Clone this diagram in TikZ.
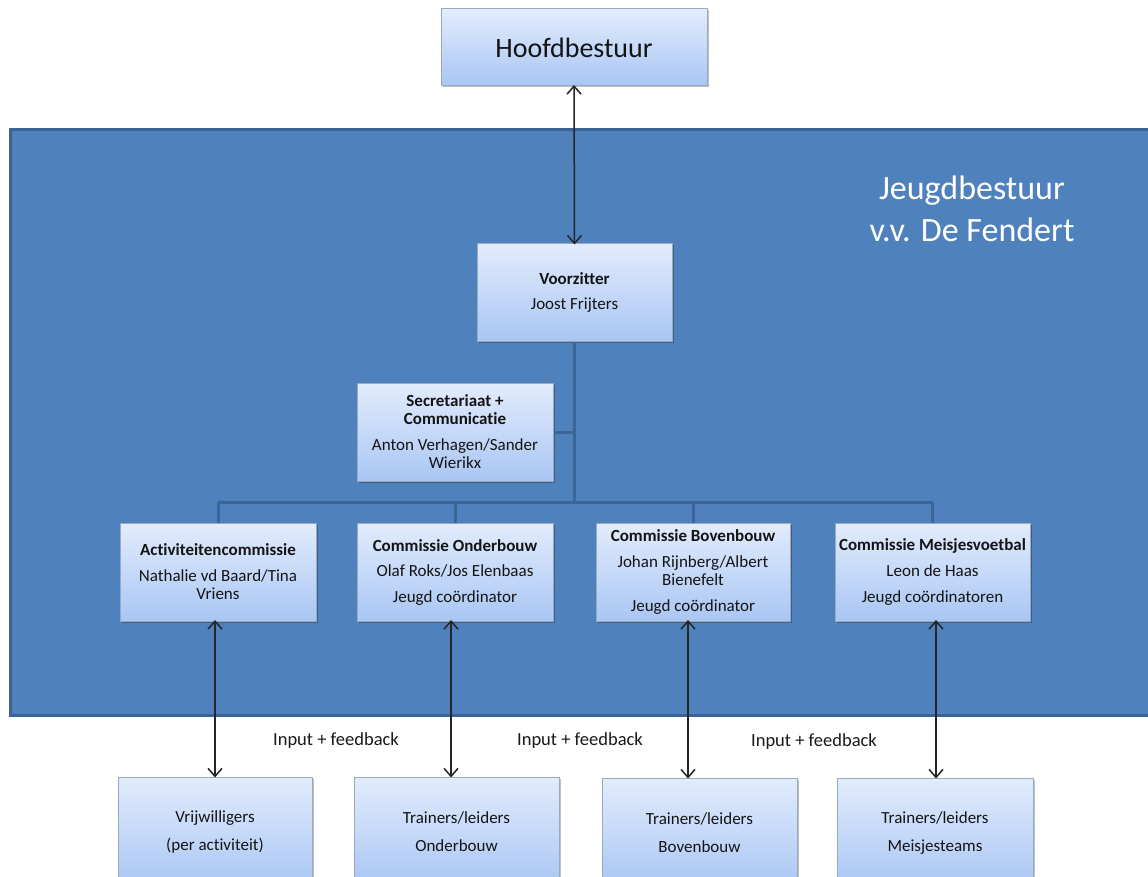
\documentclass[tikz,border=0pt]{standalone}
\usepackage{fontspec}
\setmainfont{Carlito}[Ligatures=NoCommon]
\usetikzlibrary{arrows.meta,shadows}
\definecolor{bigfill}{HTML}{4F81BD}
\definecolor{bigborder}{HTML}{3B6494}
\definecolor{treeline}{HTML}{3C6698}
\definecolor{boxtop}{HTML}{E2ECFC}
\definecolor{boxbot}{HTML}{A9C6F4}
\definecolor{boxborder}{HTML}{9AA9BC}
\tikzset{
  box/.style={draw=boxborder, line width=1pt, top color=boxtop, bottom color=boxbot,
    minimum width=196, minimum height=98, align=center, inner sep=0pt,
    font=\fontsize{17}{18}\selectfont, text=black!92,
    drop shadow={shadow xshift=1.5pt, shadow yshift=-1.5pt, fill=black, opacity=0.25}},
  tree/.style={draw=treeline, line width=3pt},
  arr/.style={{Straight Barb[length=8pt,width=14pt]}-{Straight Barb[length=8pt,width=14pt]}, line width=1.5pt, draw=black!85},
  lbl/.style={font=\fontsize{18.5}{20}\selectfont, text=black!90, inner sep=0pt},
}
\begin{document}
\begin{tikzpicture}[x=1pt,y=-1pt]
\useasboundingbox (0,0) rectangle (1148,877);
\clip (0,0) rectangle (1148,877);
\fill[white] (0,0) rectangle (1148,877);
% big panel
\draw[fill=bigfill, draw=bigborder, line width=3pt] (10,130) rectangle (1170,715);
\node[text=white, align=center, font=\fontsize{34}{42}\selectfont, inner sep=0pt] (title) at (972,209) {Jeugdbestuur\\v.v. De Fendert};

% boxes
\node[box, minimum width=266, minimum height=77, font=\fontsize{28}{32}\selectfont] (hoofd) at (574,47.5) {Hoofdbestuur};
\node[box, minimum width=195, minimum height=97] (voorz) at (574.5,292.5) {\textbf{Voorzitter}\\[7pt]Joost Frijters};
\node[box] (secr) at (455,432) {\textbf{Secretariaat +}\\\textbf{Communicatie}\\[8pt]Anton Verhagen/Sander\\Wierikx};
\node[box] (act) at (218,572) {\textbf{Activiteitencommissie}\\[8pt]Nathalie vd Baard/Tina\\Vriens};
\node[box] (ond) at (455,572) {\textbf{Commissie Onderbouw}\\[7pt]Olaf Roks/Jos Elenbaas\\[8pt]Jeugd coördinator};
\node[box, minimum width=194] (bov) at (693,572) {\textbf{Commissie Bovenbouw}\\[8pt]Johan Rijnberg/Albert\\Bienefelt\\[8pt]Jeugd coördinator};
\node[box, minimum width=195] (meis) at (932.5,572) {\textbf{Commissie Meisjesvoetbal}\\[8pt]Leon de Haas\\[8pt]Jeugd coördinatoren};

\node[box, minimum width=194, minimum height=110] (vrij) at (215,832) {Vrijwilligers\\[10pt](per activiteit)};
\node[box, minimum width=205, minimum height=110] (tond) at (456.5,832) {Trainers/leiders\\[10pt]Onderbouw};
\node[box, minimum width=195, minimum height=110] (tbov) at (699.5,833) {Trainers/leiders\\[10pt]Bovenbouw};
\node[box, minimum width=196, minimum height=110] (tmeis) at (935,833) {Trainers/leiders\\[10pt]Meisjesteams};

% tree lines
\coordinate (bus) at (574.5,502);
\draw[tree] (voorz.south) -- (bus);
\draw[tree] (secr.east) -- (secr.east -| bus);
\draw[tree] (act.north |- bus) -- (meis.north |- bus);
\draw[tree] (act.north |- bus) -- (act.north);
\draw[tree] (ond.north |- bus) -- (ond.north);
\draw[tree] (bov.north |- bus) -- (bov.north);
\draw[tree] (meis.north |- bus) -- (meis.north);

% arrows
\draw[arr] ([yshift=1.5pt]hoofd.south) -- ([yshift=-1pt]voorz.north);
\draw[arr] ([xshift=-3pt,yshift=1.5pt]act.south) -- ([xshift=-3pt,yshift=-1pt]act.south |- vrij.north);
\draw[arr] ([xshift=-4pt,yshift=1.5pt]ond.south) -- ([xshift=-4pt,yshift=-1pt]ond.south |- tond.north);
\draw[arr] ([xshift=-5pt,yshift=1.5pt]bov.south) -- ([xshift=-5pt,yshift=-1pt]bov.south |- tbov.north);
\draw[arr] ([xshift=3.5pt,yshift=1.5pt]meis.south) -- ([xshift=3.5pt,yshift=-1pt]meis.south |- tmeis.north);

% labels
\node[lbl] (l1) at (336,741) {Input + feedback};
\node[lbl] (l2) at (580,741) {Input + feedback};
\node[lbl] (l3) at (814,742) {Input + feedback};
\end{tikzpicture}
\end{document}
